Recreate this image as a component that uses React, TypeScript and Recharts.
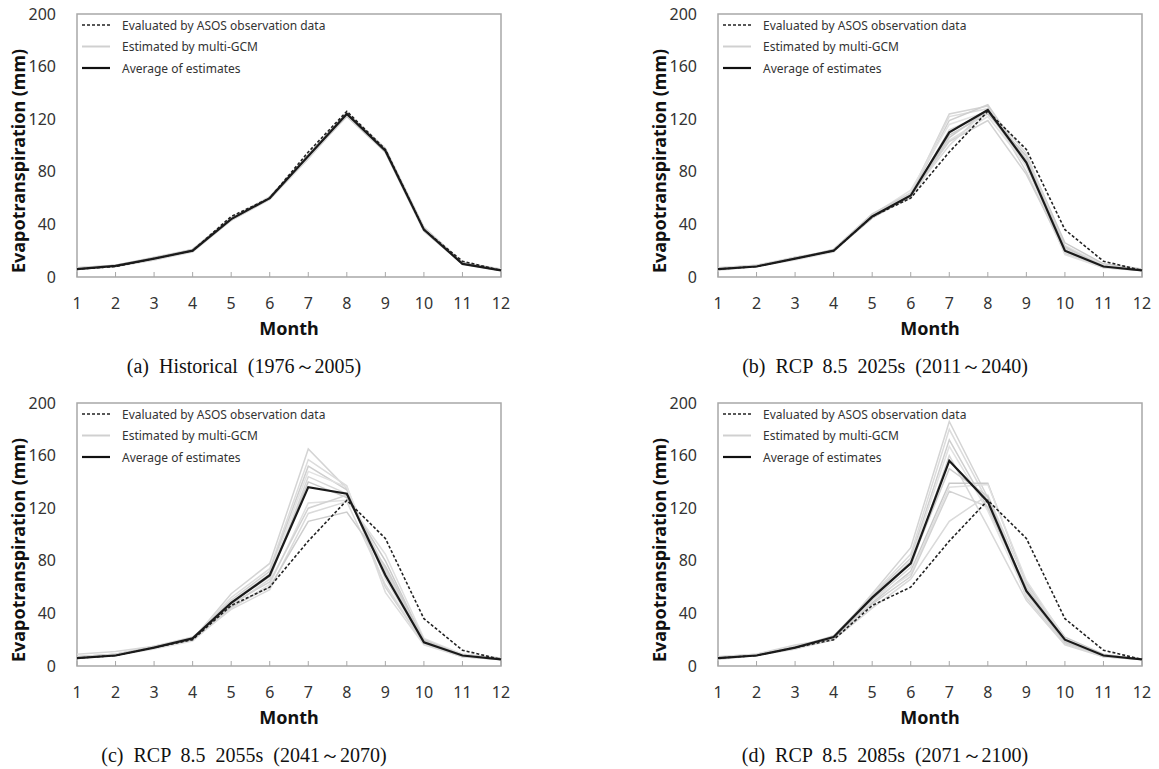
import { LineChart, Line, XAxis, YAxis, ReferenceArea, Label } from "recharts";

// months on the x axis
const months = [1, 2, 3, 4, 5, 6, 7, 8, 9, 10, 11, 12];
const yTicks = [0, 40, 80, 120, 160, 200];

// observed ASOS evapotranspiration (same in every panel)
const observed = [6, 8, 14, 20, 46, 60, 95, 126, 97, 36, 12, 5];

// (a) historical
const avgHist = [6, 8.5, 14, 20, 44, 60, 92, 124, 96, 36, 10, 5];
const gcmHist = [
  [6, 9, 14, 21, 43, 60, 90, 123, 97, 37, 11, 5],
  [6, 8, 14, 20, 45, 61, 92, 124, 95, 35, 10, 5],
  [7, 9, 15, 21, 44, 60, 93, 125, 98, 38, 11, 5],
  [6, 8, 13, 20, 43, 59, 91, 123, 96, 36, 10, 5],
  [6, 9, 14, 21, 45, 61, 92, 124, 97, 37, 11, 5],
  [6, 8, 14, 20, 44, 60, 91, 122, 95, 35, 10, 5],
  [6, 8, 14, 20, 44, 61, 93, 125, 96, 36, 10, 5],
  [7, 9, 14, 21, 45, 60, 92, 124, 97, 37, 11, 6],
  [6, 8, 13, 19, 43, 59, 90, 123, 95, 35, 10, 5],
  [6, 9, 14, 20, 44, 60, 92, 124, 96, 36, 11, 5],
];

// (b) RCP 8.5 2025s
const avg2025 = [6, 8, 14, 20, 46, 62, 110, 127, 87, 20, 8, 5];
const gcm2025 = [
  [6, 8, 14, 20, 47, 63, 124, 130, 80, 18, 7, 5],
  [7, 9, 14, 21, 46, 64, 122, 128, 84, 20, 8, 5],
  [6, 8, 15, 20, 45, 62, 119, 131, 88, 22, 8, 5],
  [6, 8, 14, 21, 47, 66, 116, 126, 90, 24, 9, 5],
  [7, 9, 15, 20, 46, 61, 112, 125, 86, 19, 8, 5],
  [6, 8, 14, 20, 45, 62, 108, 124, 92, 26, 10, 6],
  [5, 8, 13, 19, 46, 60, 104, 122, 85, 17, 7, 5],
  [6, 9, 14, 21, 48, 64, 103, 119, 78, 20, 8, 5],
  [6, 8, 14, 20, 46, 63, 100, 128, 94, 21, 9, 5],
  [6, 8, 14, 20, 45, 61, 106, 127, 89, 23, 8, 5],
];

// (c) RCP 8.5 2055s
const avg2055 = [6, 8, 14, 21, 48, 69, 136, 131, 69, 18, 8, 5];
const gcm2055 = [
  [7, 9, 14, 20, 55, 78, 165, 135, 60, 17, 7, 5],
  [6, 8, 14, 21, 52, 74, 157, 137, 56, 16, 7, 5],
  [7, 9, 15, 21, 50, 72, 152, 134, 70, 19, 8, 5],
  [6, 8, 14, 20, 49, 70, 148, 136, 66, 18, 8, 5],
  [9, 11, 15, 22, 46, 66, 144, 131, 74, 20, 8, 5],
  [6, 8, 14, 20, 48, 68, 140, 128, 80, 19, 9, 6],
  [6, 8, 13, 19, 44, 62, 124, 126, 85, 21, 9, 5],
  [7, 9, 14, 21, 47, 64, 120, 130, 72, 18, 8, 5],
  [6, 8, 14, 20, 43, 58, 116, 125, 62, 17, 7, 5],
  [6, 9, 14, 21, 45, 60, 110, 117, 76, 20, 8, 5],
];

// (d) RCP 8.5 2085s
const avg2085 = [6, 8, 14, 22, 52, 78, 156, 125, 57, 20, 8, 5];
const gcm2085 = [
  [6, 8, 14, 21, 55, 90, 186, 128, 52, 17, 7, 5],
  [7, 9, 15, 22, 54, 85, 180, 125, 56, 19, 8, 5],
  [6, 8, 14, 23, 53, 82, 172, 120, 60, 20, 8, 5],
  [6, 9, 15, 22, 52, 80, 167, 118, 54, 18, 7, 5],
  [7, 9, 16, 21, 50, 75, 160, 106, 50, 16, 7, 5],
  [6, 8, 14, 20, 48, 72, 139, 139, 63, 22, 9, 5],
  [6, 8, 13, 21, 50, 70, 136, 138, 65, 21, 8, 5],
  [6, 8, 14, 22, 47, 68, 133, 121, 58, 19, 8, 5],
  [5, 8, 13, 20, 44, 66, 110, 130, 62, 20, 8, 5],
  [6, 8, 14, 21, 51, 78, 150, 129, 56, 18, 8, 5],
];

const gcmGrays = ["#d4d4d4", "#dcdcdc", "#cfcfcf", "#e2e2e2", "#d8d8d8", "#c9c9c9", "#e0e0e0", "#d2d2d2", "#dadada", "#cdcdcd"];

const sans = "'Noto Sans', 'Open Sans', sans-serif";
const frame = "#a8a8a8";

const MonthTick = (props: any) => {
  const { x, y, payload } = props;
  return (
    <g>
      <line x1={x} y1={y} x2={x} y2={y - 5} stroke={frame} />
      <text x={x} y={y + 26} textAnchor="middle" dominantBaseline="central" fill="#333" fontSize={16} fontFamily={sans}>
        {payload.value}
      </text>
    </g>
  );
};

// legend drawn as an overlay inside the plot's top-left corner
const LegendBox = () => {
  const rows = [
    { label: "Evaluated by ASOS observation data", stroke: "#222", dash: "3 2", w: 1.6 },
    { label: "Estimated by multi-GCM", stroke: "#d0d0d0", dash: undefined, w: 2 },
    { label: "Average of estimates", stroke: "#111", dash: undefined, w: 2.2 },
  ];
  return (
    <svg width={280} height={66} style={{ position: "absolute", left: 80, top: 14 }}>
      {rows.map((r, i) => (
        <g key={r.label}>
          <line x1={2} x2={30} y1={11 + i * 21.5} y2={11 + i * 21.5} stroke={r.stroke} strokeWidth={r.w} strokeDasharray={r.dash} />
          <text x={42} y={11 + i * 21.5} dominantBaseline="central" fontSize={12} fill="#333" fontFamily={sans}>
            {r.label}
          </text>
        </g>
      ))}
    </svg>
  );
};

interface PanelProps {
  avg: number[];
  gcm: number[][];
  caption: string;
  left: number;
  top: number;
}

const Panel = ({ avg, gcm, caption, left, top }: PanelProps) => {
  const data = months.map((m, i) => {
    const row: any = { month: m, obs: observed[i], avg: avg[i] };
    gcm.forEach((s, k) => (row["g" + k] = s[i]));
    return row;
  });

  return (
    <div style={{ position: "absolute", left, top, width: 560, height: 390 }}>
      <LineChart width={560} height={340} data={data} margin={{ top: 14, right: 59, bottom: 0, left: 0 }}>
        <XAxis
          dataKey="month"
          type="number"
          domain={[1, 12]}
          ticks={months}
          height={63}
          axisLine={false}
          tickLine={false}
          tickSize={0}
          tickMargin={0}
          tick={<MonthTick />}
          interval={0}
        >
          <Label
            content={(p: any) => (
              <text x={p.viewBox.x + p.viewBox.width / 2} y={p.viewBox.y + 51} textAnchor="middle" dominantBaseline="central" fontSize={18} fontWeight="bold" fill="#111" fontFamily={sans}>
                Month
              </text>
            )}
          />
        </XAxis>
        <YAxis
          type="number"
          domain={[0, 200]}
          ticks={yTicks}
          width={77}
          axisLine={false}
          tickLine={false}
          tickSize={0}
          tickMargin={21}
          tick={{ fill: "#333", fontSize: 16, fontFamily: sans }}
        >
          <Label
            content={() => (
              <text x={18} y={161} transform="rotate(-90 18 161)" textAnchor="middle" dominantBaseline="central" fontSize={18} fontWeight="bold" fill="#111" fontFamily={sans}>
                Evapotranspiration (mm)
              </text>
            )}
          />
        </YAxis>
        <ReferenceArea x1={1} x2={12} y1={0} y2={200} fill="none" fillOpacity={0} stroke={frame} strokeWidth={1.5} />
        {gcm.map((_, k) => (
          <Line key={k} dataKey={"g" + k} stroke={gcmGrays[k]} strokeWidth={1.5} dot={false} isAnimationActive={false} />
        ))}
        <Line dataKey="obs" stroke="#222" strokeWidth={1.6} strokeDasharray="3 2" dot={false} isAnimationActive={false} />
        <Line dataKey="avg" stroke="#1a1a1a" strokeWidth={2.2} dot={false} isAnimationActive={false} />
      </LineChart>
      <LegendBox />
      <div
        style={{
          position: "absolute",
          left: 0,
          top: 354,
          width: 488,
          textAlign: "center",
          whiteSpace: "pre",
          fontFamily: "'Liberation Serif', 'Times New Roman', serif",
          fontSize: 20,
          lineHeight: "24px",
          color: "#111",
        }}
      >
        {caption}
      </div>
    </div>
  );
};

export default function App() {
  return (
    <div style={{ position: "absolute", left: 0, top: 0, width: 1159, height: 769, background: "#fff" }}>
      <Panel avg={avgHist} gcm={gcmHist} caption="(a)  Historical  (1976～2005)" left={0} top={0} />
      <Panel avg={avg2025} gcm={gcm2025} caption="(b)  RCP  8.5  2025s  (2011～2040)" left={641} top={0} />
      <Panel avg={avg2055} gcm={gcm2055} caption="(c)  RCP  8.5  2055s  (2041～2070)" left={0} top={389} />
      <Panel avg={avg2085} gcm={gcm2085} caption="(d)  RCP  8.5  2085s  (2071～2100)" left={641} top={389} />
    </div>
  );
}
